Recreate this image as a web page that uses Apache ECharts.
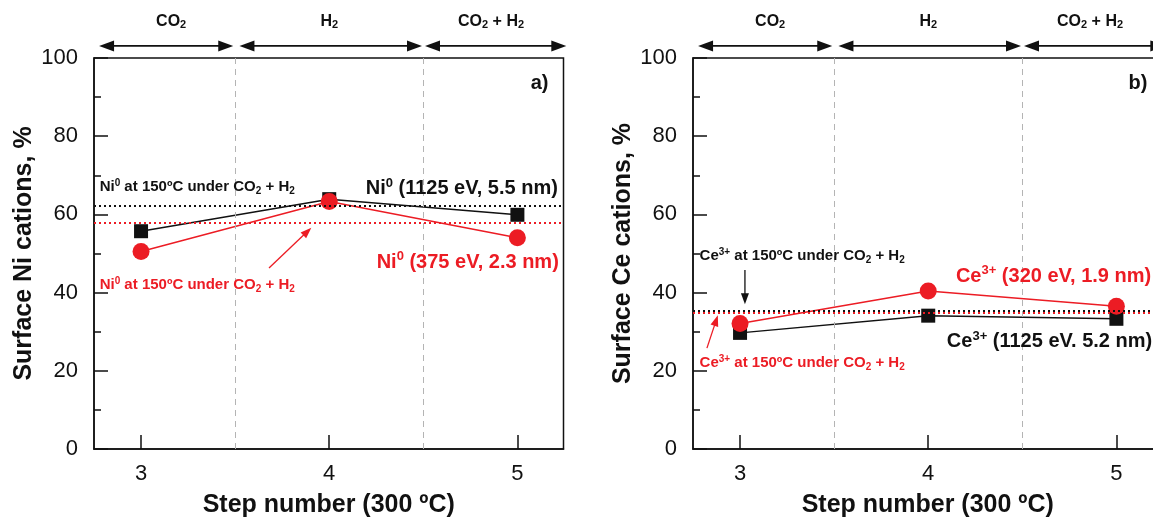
<!DOCTYPE html>
<html><head><meta charset="utf-8">
<script src="https://cdn.jsdelivr.net/npm/echarts@6/dist/echarts.min.js"></script>
<style>html,body{margin:0;padding:0;background:#fff}#c{width:1153px;height:528px}</style>
</head><body><div id="c"></div>
<script>
// ---------- data ----------
const steps = [3, 4, 5];
const xTickValues = [3, 4, 5];
const niNi0_1125 = [55.7, 63.9, 59.9];
const niNi0_375 = [50.5, 63.3, 54.0];
const niRef150_1125 = 62.3;
const niRef150_375 = 57.9;
const ceCe3_1125 = [29.7, 34.1, 33.3];
const ceCe3_320 = [32.1, 40.4, 36.5];
const ceRef150_1125 = 35.4;
const ceRef150_320 = 34.8;
const stageBounds = [3.5, 4.5];
const stageNames = ['{b|CO}{sub|2}', '{b|H}{sub|2}', '{b|CO}{sub|2}{b| + H}{sub|2}'];
const stageFrom = [2.777, 3.523, 4.509];
const stageTo = [3.49, 4.493, 5.26];
const stageLabelX = [3.16, 4.0, 4.86];

// ---------- style ----------
const FONT = "'Liberation Sans', Arial, Helvetica, sans-serif";
const BLACK = '#111111';
const RED = '#ec1c24';
const GRAY = '#b4b4b4';

const chart = echarts.init(document.getElementById('c'));

function xAxis(gi) {
  return {
    gridIndex: gi, type: 'value', min: 2.75, max: 5.245,
    axisLine: { lineStyle: { color: BLACK, width: 1.5 } },
    axisTick: { inside: true, length: 14, customValues: xTickValues, lineStyle: { color: BLACK, width: 1.5 } },
    axisLabel: { customValues: xTickValues, fontSize: 22, color: BLACK, margin: 14, fontFamily: FONT },
    splitLine: { show: false },
    name: 'Step number (300 ºC)', nameLocation: 'middle', nameGap: 44,
    nameTextStyle: { fontSize: 25, fontWeight: 'bold', color: BLACK, fontFamily: FONT }
  };
}
function yAxis(gi, name) {
  return {
    gridIndex: gi, type: 'value', min: 0, max: 100, interval: 20,
    axisLine: { show: true, lineStyle: { color: BLACK, width: 1.5 } },
    axisTick: { show: true, inside: true, length: 14, lineStyle: { color: BLACK, width: 1.5 } },
    minorTick: { show: true, splitNumber: 2, length: 7, lineStyle: { color: BLACK, width: 1.5 } },
    axisLabel: { fontSize: 22, color: BLACK, margin: 16, fontFamily: FONT },
    splitLine: { show: false },
    name: name, nameLocation: 'middle', nameGap: 57, nameRotate: 90,
    nameTextStyle: { fontSize: 25, fontWeight: 'bold', color: BLACK, fontFamily: FONT }
  };
}
function seriesFor(gi, blackVals, redVals, blackRef, redRef) {
  const ml = (v, c) => ({ yAxis: v, lineStyle: { color: c, type: [2, 3], width: 2 } });
  const vl = v => ({ xAxis: v, lineStyle: { color: GRAY, type: [6, 5], width: 1 } });
  return [
    {
      type: 'line', xAxisIndex: gi, yAxisIndex: gi, z: 3,
      data: steps.map((s, i) => [s, blackVals[i]]),
      symbol: 'rect', symbolSize: 14, showSymbol: true,
      lineStyle: { color: BLACK, width: 1.5 }, itemStyle: { color: BLACK },
      markLine: { silent: true, symbol: 'none', label: { show: false }, animation: false,
        data: [vl(stageBounds[0]), vl(stageBounds[1]), ml(blackRef, BLACK)] }
    },
    {
      type: 'line', xAxisIndex: gi, yAxisIndex: gi, z: 4,
      data: steps.map((s, i) => [s, redVals[i]]),
      symbol: 'circle', symbolSize: 17, showSymbol: true,
      lineStyle: { color: RED, width: 1.5 }, itemStyle: { color: RED },
      markLine: { silent: true, symbol: 'none', label: { show: false }, animation: false,
        data: [ml(redRef, RED)] }
    }
  ];
}

chart.setOption({
  animation: false,
  backgroundColor: '#fff',
  grid: [
    { left: 94, top: 58, width: 469.5, height: 391, show: true, borderColor: BLACK, borderWidth: 1.5, containLabel: false, outerBoundsMode: 'none' },
    { left: 693, top: 58, width: 469.5, height: 391, show: true, borderColor: BLACK, borderWidth: 1.5, containLabel: false, outerBoundsMode: 'none' }
  ],
  xAxis: [xAxis(0), xAxis(1)],
  yAxis: [yAxis(0, 'Surface Ni cations, %'), yAxis(1, 'Surface Ce cations, %')],
  series: [
    ...seriesFor(0, niNi0_1125, niNi0_375, niRef150_1125, niRef150_375),
    ...seriesFor(1, ceCe3_1125, ceCe3_320, ceRef150_1125, ceRef150_320)
  ]
});

// ---------- annotations (positions in data units, converted by the chart) ----------
function rich(color, big) {
  const bs = big ? 20 : 15, ss = big ? 13 : 10, lh = big ? 24 : 18;
  return {
    b: { fontSize: bs, fontWeight: 'bold', fill: color, color: color, fontFamily: FONT, lineHeight: lh },
    sup: { fontSize: ss, fontWeight: 'bold', fill: color, color: color, fontFamily: FONT, lineHeight: lh, verticalAlign: 'top' },
    sub: { fontSize: ss, fontWeight: 'bold', fill: color, color: color, fontFamily: FONT, lineHeight: lh - 2, verticalAlign: 'bottom', padding: [4, 0, 0, 0] }
  };
}
const annotations = [
  { g: 0, x: 2.78, y: 67.0, align: 'left', color: BLACK, big: false, text: '{b|Ni}{sup|0}{b| at 150ºC under CO}{sub|2}{b| + H}{sub|2}' },
  { g: 0, x: 5.215, y: 66.6, align: 'right', color: BLACK, big: true, text: '{b|Ni}{sup|0}{b| (1125 eV, 5.5 nm)}' },
  { g: 0, x: 5.22, y: 47.8, align: 'right', color: RED, big: true, text: '{b|Ni}{sup|0}{b| (375 eV, 2.3 nm)}' },
  { g: 0, x: 2.78, y: 42.0, align: 'left', color: RED, big: false, text: '{b|Ni}{sup|0}{b| at 150ºC under CO}{sub|2}{b| + H}{sub|2}' },
  { g: 0, x: 5.165, y: 93.6, align: 'right', color: BLACK, big: true, text: '{b|a)}' },
  { g: 1, x: 2.785, y: 49.4, align: 'left', color: BLACK, big: false, text: '{b|Ce}{sup|3+}{b| at 150ºC under CO}{sub|2}{b| + H}{sub|2}' },
  { g: 1, x: 5.185, y: 44.2, align: 'right', color: RED, big: true, text: '{b|Ce}{sup|3+}{b| (320 eV, 1.9 nm)}' },
  { g: 1, x: 5.19, y: 27.4, align: 'right', color: BLACK, big: true, text: '{b|Ce}{sup|3+}{b| (1125 eV. 5.2 nm)}' },
  { g: 1, x: 2.785, y: 22.0, align: 'left', color: RED, big: false, text: '{b|Ce}{sup|3+}{b| at 150ºC under CO}{sub|2}{b| + H}{sub|2}' },
  { g: 1, x: 5.165, y: 93.6, align: 'right', color: BLACK, big: true, text: '{b|b)}' }
];
const pointerArrows = [
  { g: 0, from: [3.68, 46.3], to: [3.905, 56.6], color: RED },
  { g: 1, from: [3.026, 45.8], to: [3.026, 37.0], color: BLACK },
  { g: 1, from: [2.824, 25.8], to: [2.882, 34.2], color: RED }
];
const stageArrowY = 103.1;
const stageLabelY = 109.3;

const px = (g, x, y) => chart.convertToPixel({ gridIndex: g }, [x, y]);

function head(tip, from, len, hw, color) {
  const dx = tip[0] - from[0], dy = tip[1] - from[1];
  const d = Math.hypot(dx, dy) || 1;
  const ux = dx / d, uy = dy / d;
  const bx = tip[0] - ux * len, by = tip[1] - uy * len;
  return { type: 'polygon', z: 100, shape: { points: [tip, [bx - uy * hw, by + ux * hw], [bx + uy * hw, by - ux * hw]] }, style: { fill: color } };
}
function arrowGraphics(p1, p2, color, doubleHead, len, hw, lw) {
  const out = [];
  const dx = p2[0] - p1[0], dy = p2[1] - p1[1];
  const d = Math.hypot(dx, dy), ux = dx / d, uy = dy / d;
  const s = doubleHead ? [p1[0] + ux * len * 0.8, p1[1] + uy * len * 0.8] : p1;
  const e = [p2[0] - ux * len * 0.8, p2[1] - uy * len * 0.8];
  out.push({ type: 'line', z: 100, shape: { x1: s[0], y1: s[1], x2: e[0], y2: e[1] }, style: { stroke: color, lineWidth: lw } });
  out.push(head(p2, p1, len, hw, color));
  if (doubleHead) out.push(head(p1, p2, len, hw, color));
  return out;
}

const graphics = [];
[0, 1].forEach(g => {
  stageNames.forEach((nm, i) => {
    const a = px(g, stageFrom[i], stageArrowY), b = px(g, stageTo[i], stageArrowY);
    graphics.push(...arrowGraphics(a, b, BLACK, true, 15, 5.5, 1.6));
    const lp = px(g, stageLabelX[i], stageLabelY);
    const r = rich(BLACK, false);
    r.b.fontSize = 16; r.sub.fontSize = 11;
    graphics.push({ type: 'text', z: 100, x: lp[0], y: lp[1], style: { text: nm, rich: r, align: 'center', verticalAlign: 'middle', fill: BLACK } });
  });
});
annotations.forEach(a => {
  const p = px(a.g, a.x, a.y);
  graphics.push({ type: 'text', z: 100, x: p[0], y: p[1], style: { text: a.text, rich: rich(a.color, a.big), align: a.align, verticalAlign: 'middle', fill: a.color } });
});
pointerArrows.forEach(a => {
  graphics.push(...arrowGraphics(px(a.g, a.from[0], a.from[1]), px(a.g, a.to[0], a.to[1]), a.color, false, 11, 4, 1.3));
});
chart.setOption({ graphic: graphics });
</script></body></html>
